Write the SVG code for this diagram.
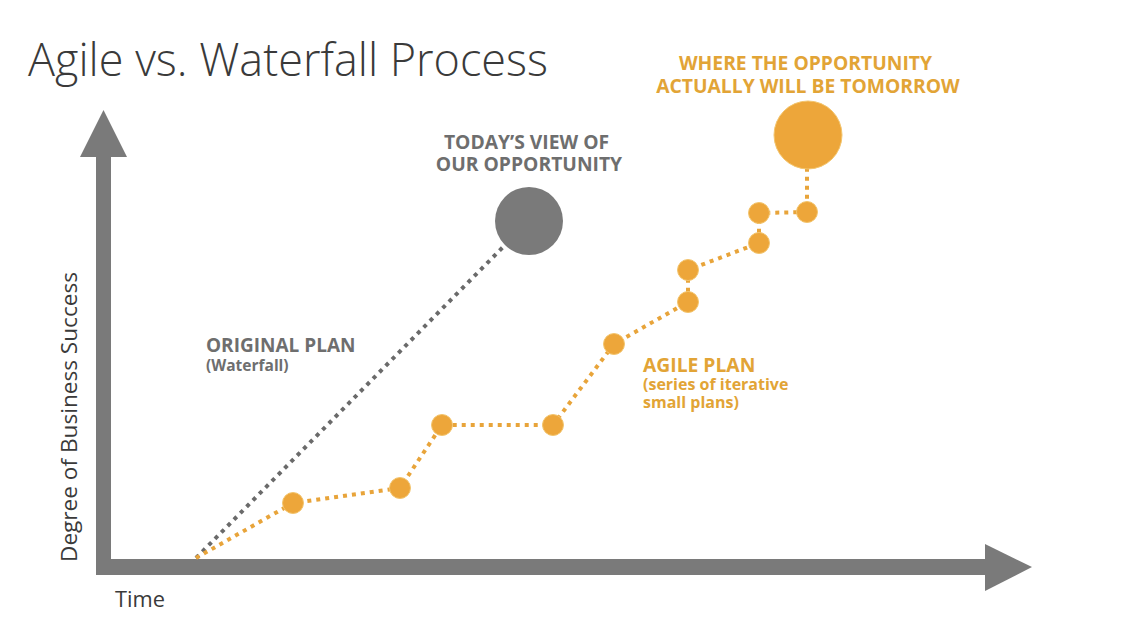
<svg xmlns="http://www.w3.org/2000/svg" width="1132" height="632" viewBox="0 0 1132 632">
  <style>
    .axis { fill: #7a7a7a; }
    .title { font-family: "Open Sans", "Liberation Sans", sans-serif; font-size: 46px; font-weight: 300; fill: #3a3a3a; }
    .axislabel { font-family: "Open Sans", "Liberation Sans", sans-serif; font-size: 22.5px; fill: #3a3a3a; }
    .lbl-gray { font-family: "Open Sans", "Liberation Sans", sans-serif; font-weight: 700; fill: #6e6e6e; }
    .lbl-gold { font-family: "Open Sans", "Liberation Sans", sans-serif; font-weight: 700; fill: #e2a436; }
    .dots-gray { fill: none; stroke: #6a6a6a; stroke-width: 4; stroke-dasharray: 4 5; }
    .dots-gold { fill: none; stroke: #e8a43a; stroke-width: 4; stroke-dasharray: 4 5; }
    .step { fill: #eda63a; stroke: #f3c56e; stroke-width: 1; }
    .goal-gray { fill: #7a7a7a; }
    .goal-gold { fill: #eda63a; stroke: #f3c56e; stroke-width: 1; }
  </style>

  <rect width="1132" height="632" fill="#ffffff"/>

  <!-- title -->
  <text class="title" x="28" y="76" textLength="520" lengthAdjust="spacingAndGlyphs">Agile vs. Waterfall Process</text>

  <!-- axes -->
  <g id="axes">
    <rect class="axis" x="96" y="150" width="15" height="425"/>
    <polygon class="axis" points="103.5,110 127,157 80,157"/>
    <rect class="axis" x="96" y="559" width="895" height="16"/>
    <polygon class="axis" points="985,544 1032,567 985,591"/>
  </g>
  <text class="axislabel" x="115" y="607" textLength="50" lengthAdjust="spacingAndGlyphs">Time</text>
  <text class="axislabel" transform="translate(77,417) rotate(-90)" text-anchor="middle" textLength="290" lengthAdjust="spacingAndGlyphs">Degree of Business Success</text>

  <!-- connectors -->
  <g id="connectors">
    <path id="waterfall-line" class="dots-gray" d="M196,558 L505,245"/>
    <path id="agile-line" class="dots-gold" d="M196,558 L293,503 L400,488 L442,425 L553,425 L614,344 L688,302 L688,270 L759,243 L759,213 L807,212 L807,168"/>
  </g>

  <!-- waterfall target -->
  <g id="node-today">
    <circle class="goal-gray" cx="529" cy="221" r="34"/>
    <text class="lbl-gray" font-size="19.3" text-anchor="middle">
      <tspan x="529" y="149">TODAY’S VIEW OF</tspan>
      <tspan x="529" y="171">OUR OPPORTUNITY</tspan>
    </text>
  </g>

  <!-- agile target -->
  <g id="node-tomorrow">
    <circle class="goal-gold" cx="808" cy="135" r="34"/>
    <text class="lbl-gold" font-size="19.3" text-anchor="middle">
      <tspan x="808" y="70">WHERE THE OPPORTUNITY</tspan>
      <tspan x="808" y="93">ACTUALLY WILL BE TOMORROW</tspan>
    </text>
  </g>

  <!-- agile iterations -->
  <g id="node-step1"><circle class="step" cx="293" cy="503" r="10.5"/></g>
  <g id="node-step2"><circle class="step" cx="400" cy="488" r="10.5"/></g>
  <g id="node-step3"><circle class="step" cx="442" cy="425" r="10.5"/></g>
  <g id="node-step4"><circle class="step" cx="553" cy="425" r="10.5"/></g>
  <g id="node-step5"><circle class="step" cx="614" cy="344" r="10.5"/></g>
  <g id="node-step6"><circle class="step" cx="688" cy="302" r="10.5"/></g>
  <g id="node-step7"><circle class="step" cx="688" cy="270" r="10.5"/></g>
  <g id="node-step8"><circle class="step" cx="759" cy="243" r="10.5"/></g>
  <g id="node-step9"><circle class="step" cx="759" cy="213" r="10.5"/></g>
  <g id="node-step10"><circle class="step" cx="807" cy="212" r="10.5"/></g>

  <!-- plan labels -->
  <g id="label-original">
    <text class="lbl-gray" font-size="19" x="206" y="352">ORIGINAL PLAN</text>
    <text class="lbl-gray" font-size="15.5" x="206" y="371">(Waterfall)</text>
  </g>
  <g id="label-agile">
    <text class="lbl-gold" font-size="19.3" x="643" y="372">AGILE PLAN</text>
    <text class="lbl-gold" font-size="16">
      <tspan x="643" y="390">(series of iterative</tspan>
      <tspan x="643" y="408">small plans)</tspan>
    </text>
  </g>
</svg>
